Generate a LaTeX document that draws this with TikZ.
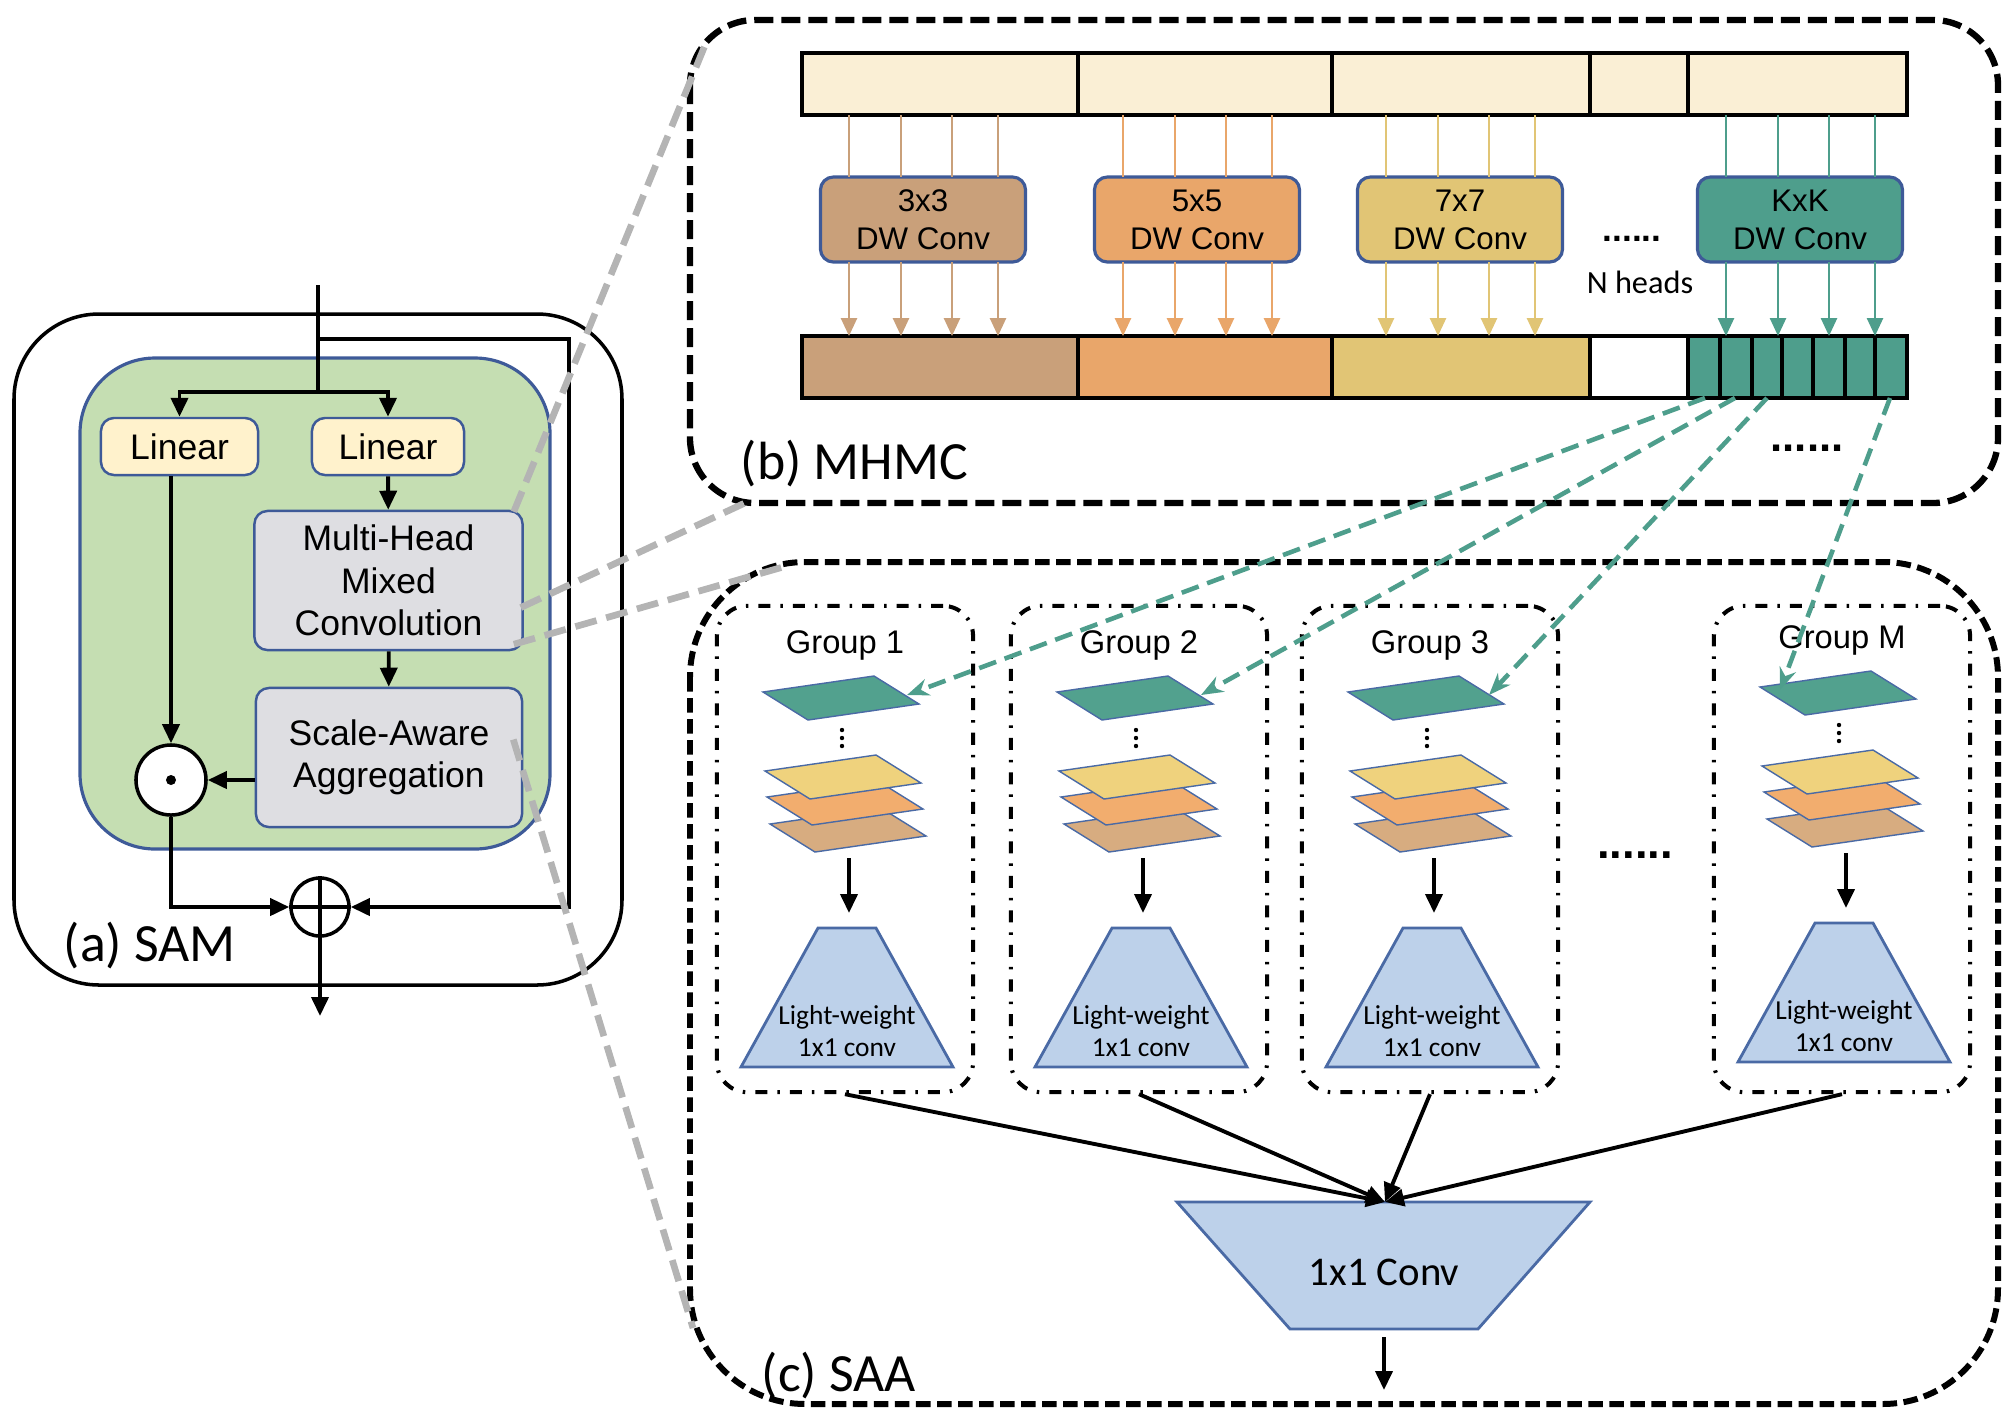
\documentclass[tikz,border=0pt]{standalone}
\usepackage{fontspec}
\setmainfont{Liberation Sans}
\newfontfamily\calfont{Carlito}
\usetikzlibrary{positioning,arrows.meta}

\definecolor{samgreen}{RGB}{197,222,178}
\definecolor{boxblue}{RGB}{62,90,152}
\definecolor{lincream}{RGB}{255,242,204}
\definecolor{barcream}{RGB}{250,239,213}
\definecolor{boxgray}{RGB}{222,222,226}
\definecolor{ctan}{RGB}{201,160,122}
\definecolor{corange}{RGB}{233,166,106}
\definecolor{cyellow}{RGB}{225,197,117}
\definecolor{cteal}{RGB}{78,158,140}
\definecolor{pltan}{RGB}{215,172,128}
\definecolor{plorange}{RGB}{242,173,110}
\definecolor{plyellow}{RGB}{239,210,125}
\definecolor{plteal}{RGB}{82,161,142}
\definecolor{trapblue}{RGB}{189,209,234}
\definecolor{trapline}{RGB}{74,106,165}
\definecolor{zoomgray}{RGB}{180,180,180}

\tikzset{
  arr/.style={-{Triangle[length=0.19cm,width=0.17cm]}, line width=1.1pt},
  blk/.style={draw=boxblue, line width=0.7pt, rounded corners=0.13cm, align=center,
    inner sep=0pt, font=\fontsize{10.1}{12.1}\selectfont},
  linbox/.style={blk, fill=lincream, minimum height=0.57cm},
  grybox/.style={blk, fill=boxgray, minimum width=2.68cm, minimum height=1.39cm},
  dwbox/.style={blk, line width=0.9pt, minimum width=2.05cm, minimum height=0.85cm,
    font=\fontsize{8.9}{10.8}\selectfont},
  barline/.style={line width=0.9pt},
  headline/.style={line width=0.75pt},
  headarr/.style={headline, -{Triangle[length=0.18cm,width=0.16cm]}},
  panelb/.style={line width=1.8pt, dash pattern=on 0.19cm off 0.08cm, rounded corners=0.65cm},
  panelc/.style={line width=1.7pt, dash pattern=on 0.145cm off 0.065cm, rounded corners=1.15cm},
  grpbox/.style={draw, line width=1.15pt, dash pattern=on 0.12cm off 0.1cm on 0.025cm off 0.1cm,
    rounded corners=0.3cm, minimum width=2.56cm, minimum height=4.86cm},
  zoomline/.style={draw=zoomgray, line width=1.9pt, dash pattern=on 0.22cm off 0.1cm},
  tealarr/.style={draw=cteal, line width=1.3pt, dash pattern=on 0.18cm off 0.09cm,
    -{Stealth[length=0.22cm,width=0.17cm]}},
  plane/.style={draw=trapline, line width=0.4pt},
  trap/.style={draw=trapline, fill=trapblue, line width=0.8pt},
  tag/.style={font=\calfont\fontsize{15.3}{18}\selectfont, inner sep=0pt, anchor=base west},
  dots/.style={font=\bfseries\fontsize{#1}{12}\selectfont, inner sep=0pt}
}
% one feature map of a group, #1/#2 = centre
\newcommand{\plane}[3]{\filldraw[plane, fill=#3] (#1-78,#2-6) -- (#1+33,#2-22)
  -- (#1+78,#2+6) -- (#1-33,#2+22) -- cycle;}

\begin{document}
\begin{tikzpicture}[x=0.01cm, y=-0.01cm]
\useasboundingbox (0,0) rectangle (2008,1414);

% (a) SAM
\draw[line width=1pt, rounded corners=0.85cm] (14,314) rectangle (622,985);
\draw[draw=boxblue, fill=samgreen, line width=0.9pt, rounded corners=0.75cm] (80,358) rectangle (550,849);
\node[linbox, minimum width=1.57cm] (lin1) at (179.5,446.5) {Linear};
\node[linbox, minimum width=1.52cm] (lin2) at (388,446.5) {Linear};
\node[grybox] (mhmc) at (388.5,580.5) {Multi-Head\\Mixed\\Convolution};
\node[grybox, minimum width=2.66cm] (saa) at (389,757.5) {Scale-Aware\\Aggregation};
\node[draw, circle, line width=1pt, fill=white, minimum size=0.7cm] (odot) at (171,780) {};
\fill (odot.center) circle[radius=0.05cm];
\node[draw, circle, line width=1pt, minimum size=0.58cm] (oplus) at (320,907) {};
\draw[line width=1pt] (oplus.north) -- (oplus.south) (oplus.west) -- (oplus.east);

\coordinate (in) at (318,285);
\coordinate (res) at (318,339);
\coordinate (split) at (318,392);
\draw[line width=1.1pt] (in) -- (split);
\draw[arr] (split) -| (lin1);
\draw[arr] (split) -| (lin2);
\draw[arr] (res) -- (569,339) |- (oplus);
\draw[arr] (lin2) -- (mhmc);
\draw[arr] (mhmc) -- (saa);
\draw[arr] (lin1.south -| odot) -- (odot);
\draw[arr] (saa.west |- odot) -- (odot);
\draw[arr] (odot) |- (oplus);
\draw[arr] (oplus) -- ++(0,109) coordinate (out);
\node[tag] at (63,961) {(a) SAM};

% (b) MHMC
\draw[panelb] (690,20) rectangle (1998,503);
\filldraw[barline, fill=barcream] (802,53) rectangle (1907,115);
\foreach \x in {1078,1332,1590,1688}
  \draw[barline] (\x,53) -- (\x,115);
\foreach \a/\b/\c in {802/1078/ctan, 1078/1332/corange, 1332/1590/cyellow, 1590/1688/white, 1688/1907/cteal}
  \filldraw[barline, fill=\c] (\a,336) rectangle (\b,398);
\foreach \x in {1720,1752,1782,1813,1845,1875}
  \draw[barline] (\x,336) -- (\x,398);
\foreach \n/\cx/\c/\k in {1/923/ctan/3x3, 2/1197/corange/5x5, 3/1460/cyellow/7x7, 4/1800/cteal/KxK}{
  \node[dwbox, fill=\c] (dw\n) at (\cx,219.5) {\k\\DW Conv};
  \foreach \o in {-74,-22,29,75}{
    \draw[headline, draw=\c] (\cx+\o,115) -- (\cx+\o,177);
    \draw[headarr, draw=\c, fill=\c] (\cx+\o,262) -- (\cx+\o,336);
  }
}
\node[dots=10] at (1632,239) {......};
\node[font=\calfont\fontsize{9.2}{11}\selectfont] (nh) at (1640,282) {N heads};
\node[dots=12.4] at (1807,448) {......};
\node[tag] at (740,479) {(b) MHMC};

% (c) SAA
\draw[panelc] (690,562) rectangle (1998,1404);
\foreach \n/\cx/\dy/\tx/\sx in {1/845/0/62/1705, 2/1139/0/62/1735, 3/1430/0/59/1767, M/1842/-5/-62/1890}{
  \node[grpbox] (gb\n) at (\cx,849) {};
  \begin{scope}[shift={(\cx,\dy)}]
    \node[font=\fontsize{9.3}{11}\selectfont] (gl\n) at (0,645) {Group \n};
    \plane{3}{830}{pltan}
    \plane{0}{803}{plorange}
    \plane{-2}{777}{plyellow}
    \plane{-4}{698}{plteal}
    \foreach \y in {730,738,746}
      \fill (-3,\y) circle[radius=0.022cm];
    \filldraw[trap] (-27,928) -- (31,928) -- (108,1067) -- (-104,1067) -- cycle;
    \node[align=center, inner sep=0pt, font=\calfont\fontsize{7.8}{9.1}\selectfont] (lw\n) at (2,1031) {Light-weight\\1x1 conv};
    \coordinate (tip\n) at (\tx,695);
    \coordinate (st\n) at (4,858);
    \coordinate (tt\n) at (4,913);
    \draw[arr] (st\n) -- (tt\n);
  \end{scope}
  \coordinate (src\n) at (\sx,398);
}
\node[dots=12.9] at (1635,855) {......};

\coordinate (bigtop) at (1385,1202);
\filldraw[trap] (1177,1202) -- (1590,1202) -- (1478,1329) -- (1290,1329) -- cycle;
\node[font=\calfont\fontsize{11.6}{14}\selectfont] (bigconv) at (1384,1272) {1x1 Conv};
\foreach \n in {1,2,3,M}
  \draw[arr] (gb\n.south) -- (bigtop);
\coordinate (cin) at (1384,1337);
\coordinate (cout) at (1384,1390);
\draw[arr] (cin) -- (cout);
\node[tag] at (761,1391) {(c) SAA};

% head groups to the groups
\foreach \n in {1,2,3,M}
  \draw[tealarr] (src\n) -- (tip\n);

% zoom lines
\coordinate (bcorner) at (708,38);
\coordinate (bfoot) at (747,502);
\coordinate (ctop) at (790,565);
\coordinate (cfoot) at (693,1328);
\draw[zoomline] ([xshift=-0.1cm,yshift=-0.02cm]mhmc.north east) -- (bcorner);
\draw[zoomline] ([xshift=-0.03cm,yshift=-0.27cm]mhmc.east) -- (bfoot);
\draw[zoomline] ([xshift=-0.1cm,yshift=0.07cm]mhmc.south east) -- (ctop);
\draw[zoomline] ([xshift=-0.1cm,yshift=0.18cm]saa.east) -- (cfoot);
\end{tikzpicture}
\end{document}
